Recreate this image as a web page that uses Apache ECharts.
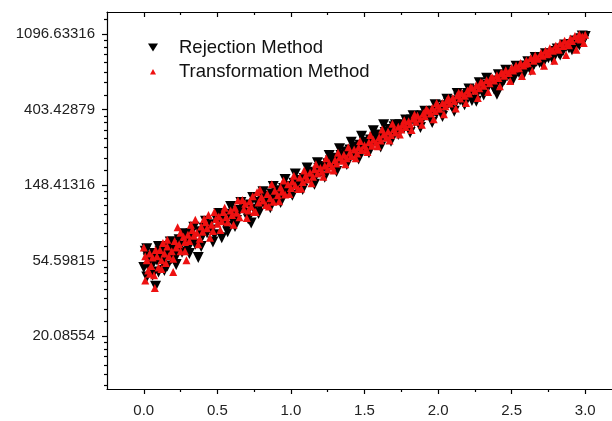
<!DOCTYPE html>
<html>
<head>
<meta charset="utf-8">
<script src="https://cdn.jsdelivr.net/npm/echarts@6/dist/echarts.min.js"></script>
<style>
html,body{margin:0;padding:0;background:#fff;}
#chart{width:612px;height:421px;}
</style>
</head>
<body>
<div id="chart"></div>
<script>
// ---- data ----
const seriesNames = ['Rejection Method', 'Transformation Method'];

const rejectionX = [0.00,0.01,0.02,0.03,0.04,0.05,0.06,0.07,0.08,0.09,0.10,0.11,0.12,0.13,0.14,0.15,0.16,0.17,0.18,0.19,0.20,0.21,0.22,0.24,0.25,0.26,0.28,0.29,0.30,0.32,0.33,0.35,0.37,0.38,0.40,0.41,0.43,0.45,0.46,0.48,0.50,0.53,0.53,0.55,0.56,0.58,0.60,0.61,0.63,0.65,0.68,0.70,0.72,0.73,0.75,0.77,0.79,0.80,0.82,0.84,0.85,0.87,0.89,0.90,0.92,0.94,0.95,0.97,0.99,1.00,1.02,1.04,1.05,1.07,1.09,1.10,1.12,1.14,1.15,1.17,1.19,1.20,1.22,1.24,1.25,1.27,1.29,1.30,1.32,1.34,1.35,1.37,1.39,1.40,1.42,1.44,1.45,1.47,1.49,1.50,1.52,1.54,1.55,1.57,1.59,1.60,1.62,1.64,1.65,1.67,1.69,1.70,1.72,1.74,1.75,1.77,1.79,1.80,1.82,1.84,1.85,1.87,1.89,1.90,1.92,1.94,1.95,1.97,1.99,2.00,2.02,2.04,2.05,2.07,2.09,2.10,2.12,2.14,2.15,2.17,2.19,2.20,2.22,2.26,2.25,2.27,2.29,2.30,2.32,2.34,2.35,2.37,2.40,2.40,2.42,2.44,2.45,2.47,2.49,2.50,2.52,2.54,2.55,2.57,2.59,2.60,2.62,2.64,2.65,2.67,2.69,2.70,2.72,2.74,2.75,2.77,2.79,2.80,2.82,2.84,2.85,2.87,2.89,2.90,2.92,2.94,2.95,2.97,2.99,3.00,
  0.02,0.06,0.10,0.14,0.18,0.22,0.27,0.31,0.34,0.39,0.42,0.47,0.51,0.57,0.59,0.62,0.66,0.71,0.74,0.78,0.81,0.86,0.88,0.93,0.96,1.01,1.03,1.08,1.11,1.16,1.18,1.23,1.26,1.31,1.33,1.38,1.41,1.46,1.48,1.53,1.56,1.61,1.63,1.68,1.71,1.73,1.78,1.81,1.83,1.88,1.91,1.96,1.98,2.03,2.06,2.11,2.13,2.18,2.21,2.23,2.28,2.31,2.33,2.38,2.41,2.43,2.46,2.51,2.53,2.58,2.61,2.63,2.66,2.71,2.73,2.78,2.81,2.83,2.86,2.91,2.93,2.96,2.98];
const rejectionY = [50,62,44,56,49,58,52,60,39,55,47,62,57,53,64,59,51,66,61,56,70,63,58,72,66,61,74,69,64,78,72,68,57,80,76,84,79,88,82,77,92,74,97,90,86,101,95,104,93,106,110,102,114,90,108,118,112,124,116,128,120,132,126,122,138,131,142,136,146,140,152,145,158,150,162,156,170,163,176,168,185,178,190,183,197,205,196,212,203,220,214,230,223,236,228,246,238,252,245,262,250,270,260,280,272,288,279,298,287,310,302,322,316,330,320,318,340,332,352,343,360,350,372,362,383,374,362,395,385,410,400,425,415,440,428,452,442,470,458,485,474,500,490,450,518,508,535,525,555,545,572,562,495,590,580,610,598,632,620,650,640,672,660,695,682,718,705,742,728,765,752,790,776,815,800,842,828,870,854,898,882,928,912,955,940,990,972,1030,1010,1060,
  64,45,66,48,70,52,78,60,85,66,92,70,102,80,112,86,118,95,126,102,136,110,146,118,160,130,172,140,186,150,200,165,220,178,240,195,262,210,284,228,305,246,330,265,330,290,352,298,372,318,395,340,430,368,462,395,500,430,530,455,575,490,610,530,640,560,680,600,715,640,760,680,805,735,845,780,900,830,950,890,1000,950,1070];

const transformX = [0.00,0.01,0.02,0.03,0.04,0.05,0.06,0.07,0.075,0.09,0.10,0.11,0.12,0.13,0.14,0.15,0.16,0.17,0.19,0.20,0.21,0.22,0.23,0.24,0.25,0.27,0.28,0.29,0.30,0.31,0.33,0.34,0.35,0.36,0.38,0.39,0.40,0.42,0.43,0.44,0.46,0.47,0.49,0.50,0.51,0.53,0.54,0.56,0.57,0.59,0.60,0.62,0.63,0.65,0.67,0.68,0.69,0.71,0.72,0.73,0.75,0.77,0.78,0.80,0.81,0.83,0.84,0.86,0.88,0.89,0.91,0.93,0.94,0.96,0.98,1.00,1.01,1.03,1.05,1.06,1.08,1.10,1.11,1.13,1.15,1.16,1.18,1.20,1.21,1.23,1.25,1.26,1.28,1.30,1.31,1.33,1.35,1.36,1.38,1.40,1.41,1.43,1.45,1.46,1.48,1.50,1.51,1.53,1.55,1.56,1.58,1.60,1.61,1.63,1.65,1.66,1.68,1.70,1.71,1.73,1.75,1.76,1.78,1.80,1.81,1.83,1.85,1.86,1.88,1.90,1.91,1.93,1.95,1.96,1.98,2.00,2.01,2.03,2.05,2.06,2.08,2.10,2.11,2.13,2.15,2.16,2.18,2.20,2.21,2.23,2.25,2.26,2.28,2.30,2.31,2.33,2.35,2.36,2.38,2.40,2.41,2.43,2.45,2.46,2.48,2.50,2.51,2.53,2.55,2.56,2.58,2.60,2.61,2.63,2.65,2.66,2.68,2.70,2.71,2.73,2.75,2.76,2.78,2.80,2.81,2.83,2.85,2.86,2.88,2.90,2.91,2.93,2.95,2.96,2.98,3.00,
  0.01,0.04,0.08,0.12,0.16,0.20,0.25,0.28,0.32,0.37,0.41,0.45,0.48,0.52,0.55,0.61,0.64,0.70,0.74,0.76,0.79,0.85,0.87,0.92,0.95,0.99,1.02,1.07,1.09,1.14,1.17,1.22,1.24,1.29,1.32,1.37,1.39,1.44,1.47,1.52,1.54,1.59,1.62,1.67,1.69,1.74,1.77,1.82,1.84,1.89,1.92,1.97,1.99,2.04,2.07,2.12,2.14,2.19,2.22,2.27,2.29,2.34,2.37,2.42,2.44,2.49,2.52,2.57,2.59,2.64,2.67,2.72,2.74,2.79,2.82,2.87,2.89,2.94,2.97,2.99];
const transformY = [65,42,55,48,60,51,57,45,38,58,50,63,55,69,60,53,66,58,62,47,71,65,85,68,62,75,70,55,77,71,82,76,94,79,73,86,80,91,84,100,88,81,95,89,98,92,104,97,91,106,100,110,103,97,122,108,116,106,120,112,104,135,118,127,121,114,132,125,119,138,130,144,136,131,150,143,156,148,141,164,155,168,160,175,166,183,173,186,177,192,183,199,190,207,198,214,205,222,212,228,218,238,226,245,236,252,240,262,250,271,260,280,268,290,278,302,288,312,298,322,310,334,320,346,332,358,344,372,357,385,370,398,383,412,396,425,408,440,422,455,438,470,452,487,468,503,484,520,500,538,518,556,535,575,553,594,572,614,592,635,612,656,632,678,654,700,676,724,698,748,722,773,746,798,770,825,796,852,822,880,850,910,878,940,907,970,937,1002,968,1035,1000,1068,1032,1090,1062,1085,
  58,46,63,49,72,56,79,62,88,68,95,74,104,82,110,88,121,96,128,104,140,112,150,120,158,132,168,142,180,152,196,166,212,180,228,196,245,212,266,230,288,248,310,268,335,290,350,308,378,330,405,355,440,380,470,410,505,440,540,470,580,510,615,550,650,590,695,630,740,675,790,720,840,770,890,830,945,890,1020,975];

const xTickLabels = ['0.0','0.5','1.0','1.5','2.0','2.5','3.0'];
const xMajorValues = [0, 0.5, 1.0, 1.5, 2.0, 2.5, 3.0];
const xMinorValues = [0.25, 0.75, 1.25, 1.75, 2.25, 2.75];
const yTickLabels = ['20.08554','54.59815','148.41316','403.42879','1096.63316'];
const yMajorPowers = [3, 4, 5, 6, 7];

// ---- build ----
const xMin = -0.25, xMax = 3.25, yMin = 10, yMax = 1468;
const rejData = rejectionX.map((x, i) => [x, rejectionY[i]]);
const trData = transformX.map((x, i) => [x, transformY[i]]);

// linear-in-value minor ticks between powers of e (8 divisions)
const yMinorValues = [];
for (let k = 2; k <= 7; k++) {
  const a = Math.exp(k), b = Math.exp(k + 1), st = (b - a) / 8;
  for (let j = 1; j < 8; j++) {
    const v = a + j * st;
    if (v > yMin && v < yMax) yMinorValues.push(v);
  }
}

const FONT = '"Liberation Sans", Arial, sans-serif';
const lineStyle = { color: '#000', width: 1.2 };

function xAx(opts) {
  return Object.assign({
    type: 'value', min: xMin, max: xMax,
    splitLine: { show: false },
    axisLine: { show: false, onZero: false, lineStyle },
    axisLabel: { show: false },
    axisTick: { show: false }
  }, opts);
}

const chart = echarts.init(document.getElementById('chart'), null, { renderer: 'canvas' });
chart.setOption({
  animation: false,
  backgroundColor: '#fff',
  grid: { left: 107, top: 12, right: -10, bottom: 32, containLabel: false, outerBoundsMode: 'none' },
  legend: {
    orient: 'vertical', left: 143, top: 33,
    itemWidth: 10, itemHeight: 10, itemGap: 5,
    textStyle: { fontFamily: FONT, fontSize: 18.5, color: '#111', padding: [0, 0, 0, 16] },
    data: [
      { name: seriesNames[0], icon: 'path://M0,1L10,1L5,9Z' },
      { name: seriesNames[1], icon: 'path://M0,0M10,10M2,8L5,2.5L8,8Z' }
    ]
  },
  xAxis: [
    xAx({ position: 'bottom',
      axisLine: { show: true, onZero: false, lineStyle },
      axisTick: { show: true, inside: false, length: 5, lineStyle, customValues: xMajorValues },
      axisLabel: { show: true, margin: 14, fontFamily: FONT, fontSize: 15, color: '#222',
        customValues: xMajorValues,
        formatter: v => xTickLabels[xMajorValues.indexOf(+(+v).toFixed(2))] || '' } }),
    xAx({ position: 'bottom',
      axisTick: { show: true, inside: false, length: 3, lineStyle, customValues: xMinorValues } }),
    xAx({ position: 'top',
      axisLine: { show: true, onZero: false, lineStyle },
      axisTick: { show: true, inside: true, length: 5, lineStyle, customValues: xMajorValues } }),
    xAx({ position: 'top',
      axisTick: { show: true, inside: true, length: 3, lineStyle, customValues: xMinorValues } })
  ],
  yAxis: [
    { type: 'log', logBase: Math.E, min: yMin, max: yMax, position: 'left',
      splitLine: { show: false },
      axisLine: { show: true, onZero: false, lineStyle },
      axisTick: { show: true, inside: false, length: 5, lineStyle },
      axisLabel: { margin: 12, fontFamily: FONT, fontSize: 15, color: '#222',
        showMinLabel: false, showMaxLabel: false,
        formatter: v => {
          const p = Math.round(Math.log(v));
          const i = yMajorPowers.indexOf(p);
          return (i >= 0 && Math.abs(Math.log(v) - p) < 1e-6) ? yTickLabels[i] : '';
        } } },
    { type: 'log', logBase: Math.E, min: yMin, max: yMax, position: 'left', offset: 0,
      splitLine: { show: false },
      axisLine: { show: false, onZero: false },
      axisLabel: { show: false },
      axisTick: { show: true, inside: false, length: 3, lineStyle, customValues: yMinorValues } }
  ],
  series: [
    { name: seriesNames[0], type: 'scatter', xAxisIndex: 0, yAxisIndex: 0,
      symbol: 'triangle', symbolRotate: 180, symbolSize: 11,
      itemStyle: { color: '#000', opacity: 1 }, data: rejData },
    { name: seriesNames[1], type: 'scatter', xAxisIndex: 0, yAxisIndex: 0,
      symbol: 'triangle', symbolSize: 8,
      itemStyle: { color: '#ee1111', opacity: 1 }, data: trData }
  ]
});
</script>
</body>
</html>
